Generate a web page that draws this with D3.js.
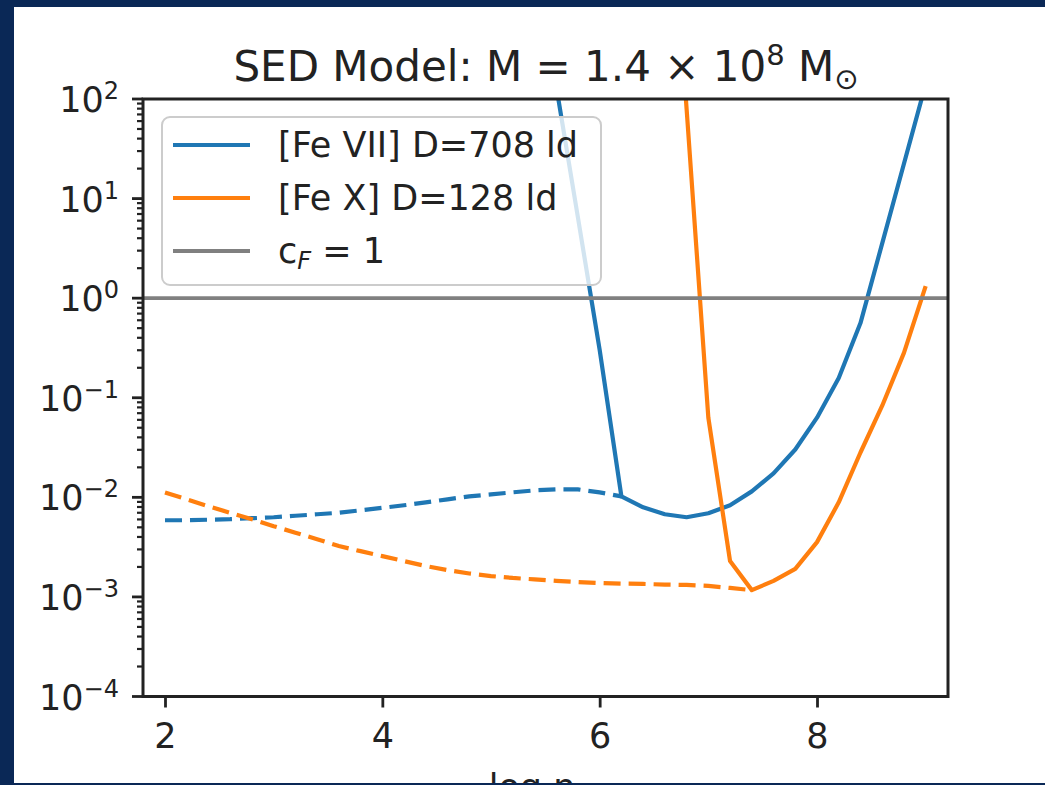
<!DOCTYPE html>
<html>
<head>
<meta charset="utf-8">
<script src="https://cdn.jsdelivr.net/npm/d3@7"></script>
<style>
  html, body { margin: 0; padding: 0; overflow: hidden; background: #0a2856; }
  svg { display: block; }
  text { font-family: "DejaVu Sans", sans-serif; fill: #222; }
</style>
</head>
<body>
<svg id="chart" width="1045" height="785"></svg>
<script>
// ---- data: covering factor c_F versus log density ----
const blueDashX = [2.0, 2.2, 2.4, 2.6, 2.8, 3.0, 3.2, 3.4, 3.6, 3.8, 4.0, 4.2, 4.4, 4.6, 4.8, 5.0, 5.2, 5.4, 5.6, 5.8, 6.0, 6.2];
const blueDashY = [0.00589, 0.00589, 0.00596, 0.00603, 0.00617, 0.00631, 0.00653, 0.00676, 0.00700, 0.00741, 0.00785, 0.00832, 0.00891, 0.00955, 0.01023, 0.01072, 0.01122, 0.01175, 0.01202, 0.01202, 0.01122, 0.01023];

const blueSolidX = [5.6, 5.8, 6.0, 6.2, 6.4, 6.6, 6.8, 7.0, 7.2, 7.4, 7.6, 7.8, 8.0, 8.2, 8.4, 8.6, 8.8, 9.0];
const blueSolidY = [135, 6.46, 0.302, 0.01023, 0.00794, 0.00676, 0.00631, 0.00692, 0.00832, 0.01148, 0.01738, 0.0302, 0.0631, 0.158, 0.562, 3.55, 22.4, 141];

const orangeDashX = [2.0, 2.2, 2.4, 2.6, 2.8, 3.0, 3.2, 3.4, 3.6, 3.8, 4.0, 4.2, 4.4, 4.6, 4.8, 5.0, 5.2, 5.4, 5.6, 5.8, 6.0, 6.2, 6.4, 6.6, 6.8, 7.0, 7.2, 7.4];
const orangeDashY = [0.0112, 0.00955, 0.00813, 0.00700, 0.00603, 0.00513, 0.00442, 0.00380, 0.00324, 0.00288, 0.00257, 0.00229, 0.00204, 0.00186, 0.00172, 0.00162, 0.00155, 0.00150, 0.00145, 0.00141, 0.00138, 0.00136, 0.00135, 0.00133, 0.00132, 0.00129, 0.00123, 0.00117];

const orangeSolidX = [6.6, 6.8, 7.0, 7.2, 7.4, 7.6, 7.8, 8.0, 8.2, 8.4, 8.6, 8.8, 9.0];
const orangeSolidY = [1e5, 79.4, 0.0631, 0.00229, 0.00117, 0.00145, 0.00191, 0.00355, 0.00891, 0.0282, 0.0832, 0.282, 1.32];

const refLevel = 1;                       // c_F = 1
const xTickValues = [2, 4, 6, 8];
const yMajorExps = [-4, -3, -2, -1, 0, 1, 2];
const legendLabels = ["[Fe VII] D=708 ld", "[Fe X] D=128 ld"];
const titleMain = "SED Model: M = 1.4 \u00d7 10";
const titleSup = "8";
const xLabel = "log n";

// ---- layout ----
const W = 1045, H = 785;
const plot = { left: 143, right: 948, top: 99, bottom: 696.5 };
const C_BLUE = "#1f77b4", C_ORANGE = "#ff7f0e", C_GREY = "#808080";
const FS = 35;

const svg = d3.select("#chart");
svg.append("rect").attr("x", 14).attr("y", 7).attr("width", W - 14).attr("height", H - 9).attr("fill", "#fff");

const x = d3.scaleLinear().domain([1.7976, 9.2055]).range([plot.left, plot.right]);
const y = d3.scaleLog().domain([1e-4, 1e2]).range([plot.bottom, plot.top]);

svg.append("clipPath").attr("id", "plotClip")
  .append("rect").attr("x", plot.left).attr("y", plot.top)
  .attr("width", plot.right - plot.left).attr("height", plot.bottom - plot.top);

const g = svg.append("g").attr("clip-path", "url(#plotClip)");
const line = d3.line().x(d => x(d[0])).y(d => y(d[1]));
const zip = (a, b) => a.map((v, i) => [v, b[i]]);

const LW = 4.2;
g.append("path").attr("d", line(zip(blueDashX, blueDashY)))
  .attr("fill", "none").attr("stroke", C_BLUE).attr("stroke-width", LW).attr("stroke-dasharray", "17,8");
g.append("path").attr("d", line(zip(blueSolidX, blueSolidY)))
  .attr("fill", "none").attr("stroke", C_BLUE).attr("stroke-width", LW).attr("stroke-linejoin", "round");
g.append("path").attr("d", line(zip(orangeDashX, orangeDashY)))
  .attr("fill", "none").attr("stroke", C_ORANGE).attr("stroke-width", LW).attr("stroke-dasharray", "17,8");
g.append("path").attr("d", line(zip(orangeSolidX, orangeSolidY)))
  .attr("fill", "none").attr("stroke", C_ORANGE).attr("stroke-width", LW).attr("stroke-linejoin", "round");
g.append("line").attr("x1", plot.left).attr("x2", plot.right)
  .attr("y1", y(refLevel)).attr("y2", y(refLevel))
  .attr("stroke", C_GREY).attr("stroke-width", 3.8);

// ---- axes ----
const xAxis = d3.axisBottom(x).tickValues(xTickValues).tickSize(11).tickPadding(16).tickFormat(d3.format("d"));
const xa = svg.append("g").attr("transform", `translate(0,${plot.bottom})`).call(xAxis);
xa.select(".domain").remove();
xa.selectAll(".tick line").attr("stroke", "#222").attr("stroke-width", 2.8);
xa.selectAll(".tick text").attr("font-size", FS).attr("font-family", "DejaVu Sans").attr("fill", "#222");

// minor log ticks
const minor = y.ticks().filter(v => !yMajorExps.some(e => Math.abs(Math.log10(v) - e) < 1e-9));
svg.append("g").selectAll("line").data(minor).join("line")
  .attr("x1", plot.left - 6).attr("x2", plot.left)
  .attr("y1", d => y(d)).attr("y2", d => y(d))
  .attr("stroke", "#222").attr("stroke-width", 2.2);

const yMajor = svg.append("g");
yMajorExps.forEach(e => {
  const yy = y(Math.pow(10, e));
  yMajor.append("line").attr("x1", plot.left - 11).attr("x2", plot.left)
    .attr("y1", yy).attr("y2", yy).attr("stroke", "#222").attr("stroke-width", 2.8);
  const t = yMajor.append("text").attr("x", 119).attr("y", yy + 13).attr("text-anchor", "end").attr("font-size", FS);
  t.append("tspan").text("10");
  t.append("tspan").attr("font-size", 24).attr("dy", -13).text(e < 0 ? "\u2212" + (-e) : String(e));
});

// spines
svg.append("rect").attr("x", plot.left).attr("y", plot.top)
  .attr("width", plot.right - plot.left).attr("height", plot.bottom - plot.top)
  .attr("fill", "none").attr("stroke", "#222").attr("stroke-width", 3);

// ---- legend ----
const leg = svg.append("g");
leg.append("rect").attr("x", 162).attr("y", 117).attr("width", 439).attr("height", 168)
  .attr("rx", 8).attr("fill", "#fff").attr("fill-opacity", 0.8)
  .attr("stroke", "#cccccc").attr("stroke-width", 2);
const legRows = [
  { c: C_BLUE, y: 145 },
  { c: C_ORANGE, y: 198 },
  { c: C_GREY, y: 251 }
];
legRows.forEach((r, i) => {
  leg.append("line").attr("x1", 173).attr("x2", 250).attr("y1", r.y).attr("y2", r.y)
    .attr("stroke", r.c).attr("stroke-width", i === 2 ? 3.8 : LW);
  const t = leg.append("text").attr("x", 278).attr("y", r.y + 12).attr("font-size", FS);
  if (i < 2) {
    t.text(legendLabels[i]);
  } else {
    t.append("tspan").text("c");
    t.append("tspan").attr("font-size", 24).attr("font-style", "italic").attr("dy", 6).text("F");
    t.append("tspan").attr("dy", -6).text(" = 1");
  }
});

// ---- title ----
const title = svg.append("text").attr("x", 546).attr("y", 81).attr("text-anchor", "middle").attr("font-size", 42);
title.append("tspan").text(titleMain);
title.append("tspan").attr("font-size", 29).attr("dy", -16).text(titleSup);
title.append("tspan").attr("dy", 16).text(" M");
title.append("tspan").attr("font-size", 29).attr("dy", 8).text("\u2299");

// ---- x label (runs off the lower edge) ----
svg.append("text").attr("x", 532).attr("y", 799).attr("text-anchor", "middle").attr("font-size", FS).text(xLabel);

// ---- frame ----
const frame = svg.append("g").attr("fill", "#0a2856");
frame.append("rect").attr("x", 0).attr("y", 0).attr("width", W).attr("height", 7);
frame.append("rect").attr("x", 0).attr("y", 0).attr("width", 14).attr("height", H);
frame.append("rect").attr("x", 0).attr("y", 783).attr("width", W).attr("height", 2);
</script>
</body>
</html>
